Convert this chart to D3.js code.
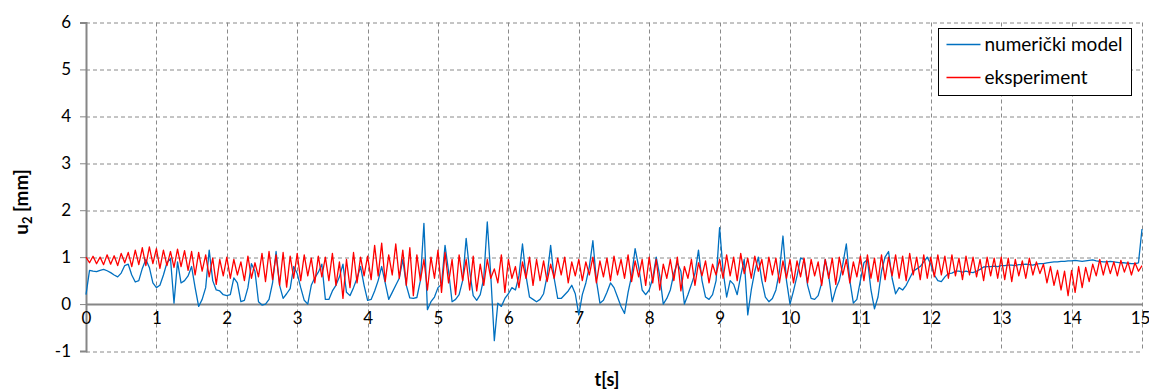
<!DOCTYPE html>
<html>
<head>
<meta charset="utf-8">
<script src="https://cdn.jsdelivr.net/npm/d3@7"></script>
<style>
  body { margin: 0; background: #fff; }
  text { font-family: Lato, "Open Sans", sans-serif; fill: #000; }
</style>
</head>
<body>
<div id="chart"></div>
<script>
// sampling step of both series, seconds
const dt = 0.05;

// numerical model, u2 [mm], one row per second
const numericalModel = [
  0.20,0.72,0.70,0.69,0.72,0.74,0.71,0.67,0.62,0.58,0.66,0.82,0.85,0.62,0.47,0.50,0.76,0.95,0.78,0.45,
  0.35,0.40,0.62,0.88,0.97,0.02,0.90,0.45,0.50,0.60,0.80,0.35,-0.05,0.10,0.35,1.15,0.50,0.30,0.28,0.20,
  0.18,0.20,0.56,0.45,0.05,0.08,0.35,0.86,0.70,0.05,-0.02,0.00,0.10,0.45,1.12,0.40,0.12,0.22,0.33,0.80,
  0.65,0.35,0.08,0.00,0.40,0.56,0.68,0.85,0.10,0.10,0.28,0.40,0.58,0.85,0.25,0.18,0.35,0.55,0.80,0.40,
  0.08,0.10,0.28,0.50,0.80,0.45,0.10,0.25,0.40,0.55,0.95,0.40,0.13,0.12,0.14,0.50,1.72,-0.12,0.05,0.15,
  0.35,0.42,1.25,0.70,0.05,0.10,0.20,0.50,1.40,0.70,0.18,0.08,0.20,0.55,1.75,0.60,-0.78,0.02,-0.05,0.12,
  0.22,0.35,0.30,0.60,1.28,0.60,0.15,0.10,0.05,0.10,0.22,0.60,1.25,0.55,0.12,0.12,0.20,0.28,0.40,0.22,
  -0.23,0.20,0.45,0.80,1.35,0.50,0.02,0.08,0.25,0.45,0.35,0.15,-0.05,-0.20,0.25,0.60,1.18,0.80,0.30,0.20,
  0.30,0.55,1.00,0.60,0.00,0.12,0.30,0.65,0.88,0.70,0.00,0.20,0.42,0.65,1.15,0.50,0.15,0.10,0.20,0.50,
  1.63,0.70,0.15,0.50,0.42,0.20,0.60,0.95,-0.23,0.30,0.70,1.00,0.50,0.15,0.05,0.12,0.30,0.70,1.45,0.50,
  0.00,0.28,0.60,0.98,0.95,0.40,0.12,0.10,0.18,0.45,0.95,0.60,0.05,0.32,0.50,0.85,1.28,0.50,0.02,0.10,
  0.50,0.88,0.95,0.30,-0.10,0.15,0.70,1.00,1.12,0.55,0.22,0.35,0.30,0.40,0.55,0.70,0.75,0.80,0.90,1.00,
  0.85,0.62,0.50,0.48,0.58,0.65,0.66,0.70,0.70,0.68,0.70,0.68,0.67,0.70,0.74,0.79,0.80,0.80,0.81,0.80,
  0.82,0.82,0.83,0.83,0.82,0.84,0.84,0.85,0.84,0.83,0.85,0.86,0.86,0.88,0.89,0.90,0.90,0.91,0.91,0.92,
  0.92,0.93,0.92,0.91,0.92,0.93,0.94,0.92,0.91,0.90,0.90,0.91,0.90,0.89,0.88,0.88,0.87,0.86,0.86,0.88,
  1.60
];

// experiment, u2 [mm], one row per second
const experiment = [
  1.00,0.88,1.02,0.86,1.00,0.84,1.05,0.85,1.03,0.82,1.08,0.88,1.10,0.80,1.15,0.84,1.20,0.82,1.22,0.86,
  1.18,0.76,1.15,0.82,1.12,0.78,1.17,0.80,1.14,0.72,1.12,0.62,1.10,0.70,1.05,0.58,0.98,0.42,0.95,0.60,
  1.00,0.55,0.95,0.62,0.90,0.50,1.02,0.55,0.88,0.58,1.08,0.48,1.12,0.52,1.05,0.40,1.10,0.36,1.02,0.55,
  1.08,0.50,1.05,0.60,0.98,0.45,1.02,0.58,1.00,0.50,1.08,0.40,0.90,0.12,0.95,0.35,1.10,0.45,1.00,0.60,
  1.02,0.52,1.25,0.60,1.30,0.48,1.05,0.62,1.28,0.55,1.15,0.40,1.20,0.18,1.05,0.50,0.95,0.30,1.00,0.55,
  1.15,0.25,1.10,0.45,0.95,0.20,1.05,0.50,0.95,0.30,1.02,0.28,0.85,0.40,0.95,0.55,0.75,0.45,1.05,0.25,
  0.95,0.55,0.80,0.35,0.90,0.55,1.00,0.40,0.95,0.50,0.92,0.48,0.85,0.55,0.98,0.62,1.00,0.45,0.90,0.60,
  0.95,0.50,0.90,0.62,1.00,0.45,0.92,0.58,0.98,0.50,1.02,0.62,0.95,0.55,1.05,0.48,0.92,0.58,0.95,0.40,
  1.00,0.45,0.95,0.30,0.85,0.55,0.95,0.50,1.00,0.28,0.80,0.55,0.95,0.40,0.88,0.60,0.92,0.45,0.85,0.62,
  0.95,0.55,1.05,0.60,1.00,0.50,1.08,0.65,0.98,0.55,1.02,0.70,0.95,0.48,1.00,0.62,0.98,0.45,0.92,0.55,
  0.95,0.45,0.92,0.58,0.98,0.45,0.95,0.60,0.90,0.40,0.95,0.55,0.98,0.42,1.00,0.62,0.95,0.45,0.90,0.58,
  1.02,0.50,1.05,0.55,0.98,0.48,1.05,0.52,1.00,0.60,1.05,0.55,1.02,0.50,1.08,0.62,1.00,0.52,1.05,0.55,
  1.00,0.58,1.05,0.62,1.02,0.55,1.05,0.60,0.98,0.52,1.02,0.62,1.00,0.58,0.95,0.50,1.00,0.60,0.98,0.55,
  1.00,0.52,0.98,0.48,0.95,0.60,0.92,0.55,0.98,0.62,0.90,0.65,0.85,0.45,0.80,0.40,0.72,0.30,0.70,0.18,
  0.72,0.25,0.80,0.35,0.78,0.48,0.85,0.60,0.95,0.62,0.92,0.65,0.90,0.60,0.93,0.68,0.90,0.62,0.88,0.70,
  0.82
];

const xTicks = [0,1,2,3,4,5,6,7,8,9,10,11,12,13,14,15];
const yTicks = [-1,0,1,2,3,4,5,6];
const seriesNames = ["numerički model", "eksperiment"];
const seriesColors = ["#0070c0", "#ff0000"];

const W = 1149, H = 390;
const margin = {top: 22.5, right: 7, bottom: 39, left: 86};
const width = W - margin.left - margin.right,
      height = H - margin.top - margin.bottom;

const svg = d3.select("#chart")
  .append("svg")
  .attr("width", W)
  .attr("height", H);

const g = svg.append("g")
  .attr("transform", `translate(${margin.left},${margin.top})`);

const x = d3.scaleLinear().domain([0, 15]).range([0, width]);
const y = d3.scaleLinear().domain([-1, 6]).range([height, 0]);

const gridColor = "#8a8a8a";
const plain = d => String(d);   // keep the ASCII hyphen for -1

// horizontal dashed gridlines (0 is the solid axis)
g.append("g")
  .selectAll("line")
  .data(yTicks.filter(d => d !== 0))
  .join("line")
    .attr("x1", 0).attr("x2", width)
    .attr("y1", d => Math.round(y(d)) + 0.5)
    .attr("y2", d => Math.round(y(d)) + 0.5)
    .attr("stroke", gridColor)
    .attr("stroke-dasharray", "4,3");

// vertical dashed gridlines
g.append("g")
  .selectAll("line")
  .data(xTicks.filter(d => d !== 0))
  .join("line")
    .attr("x1", d => Math.round(x(d)) + 0.5)
    .attr("x2", d => Math.round(x(d)) + 0.5)
    .attr("y1", 0).attr("y2", height)
    .attr("stroke", gridColor)
    .attr("stroke-dasharray", "4,3");

// y axis with ticks to the left
const yAxis = g.append("g")
  .call(d3.axisLeft(y).tickValues(yTicks).tickSize(6).tickPadding(9).tickFormat(plain));
yAxis.select(".domain").attr("stroke", "#868686").attr("stroke-width", 2);
yAxis.selectAll(".tick line").attr("stroke", "#868686");
yAxis.selectAll(".tick text")
  .style("font-family", "Lato, 'Open Sans', sans-serif")
  .style("font-size", "17px")
  .attr("fill", "#000");

// x axis line along y = 0, labels below it
const xAxis = g.append("g")
  .attr("transform", `translate(0,${y(0)})`)
  .call(d3.axisBottom(x).tickValues(xTicks).tickSize(0).tickPadding(8).tickFormat(plain));
xAxis.select(".domain").attr("stroke", "#868686").attr("stroke-width", 2);
xAxis.selectAll(".tick text")
  .style("font-family", "Lato, 'Open Sans', sans-serif")
  .style("font-size", "17px")
  .attr("fill", "#000");
// last label sits on the right edge of the page
xAxis.selectAll(".tick text").filter(d => d === 15).attr("dx", -2);

// the series
const line = d3.line()
  .x((d, i) => x(i * dt))
  .y(d => y(d));

[numericalModel, experiment].forEach((s, k) => {
  g.append("path")
    .datum(s)
    .attr("fill", "none")
    .attr("stroke", seriesColors[k])
    .attr("stroke-width", 1.3)
    .attr("stroke-linejoin", "round")
    .attr("d", line);
});

// legend
const legend = svg.append("g").attr("transform", "translate(938.5,28.5)");
legend.append("rect")
  .attr("width", 193).attr("height", 67)
  .attr("fill", "#fff").attr("stroke", "#000");
legend.selectAll("line.key")
  .data(seriesNames)
  .join("line")
    .attr("class", "key")
    .attr("x1", 8).attr("x2", 42)
    .attr("y1", (d, i) => 16 + i * 33)
    .attr("y2", (d, i) => 16 + i * 33)
    .attr("stroke", (d, i) => seriesColors[i])
    .attr("stroke-width", 1.4);
legend.selectAll("text")
  .data(seriesNames)
  .join("text")
    .attr("x", 46)
    .attr("y", (d, i) => 22 + i * 33)
    .style("font-size", "19px")
    .text(d => d);

// axis titles
svg.append("text")
  .attr("x", 607)
  .attr("y", 386)
  .attr("text-anchor", "middle")
  .style("font-size", "18px")
  .style("font-weight", 700)
  .text("t[s]");

const yLabel = svg.append("text")
  .attr("transform", "translate(28,202) rotate(-90)")
  .attr("text-anchor", "middle")
  .style("font-size", "19px")
  .style("font-weight", 700);
yLabel.append("tspan").text("u");
yLabel.append("tspan").attr("dy", 4).style("font-size", "13px").text("2");
yLabel.append("tspan").attr("dy", -4).text(" [mm]");
</script>
</body>
</html>
